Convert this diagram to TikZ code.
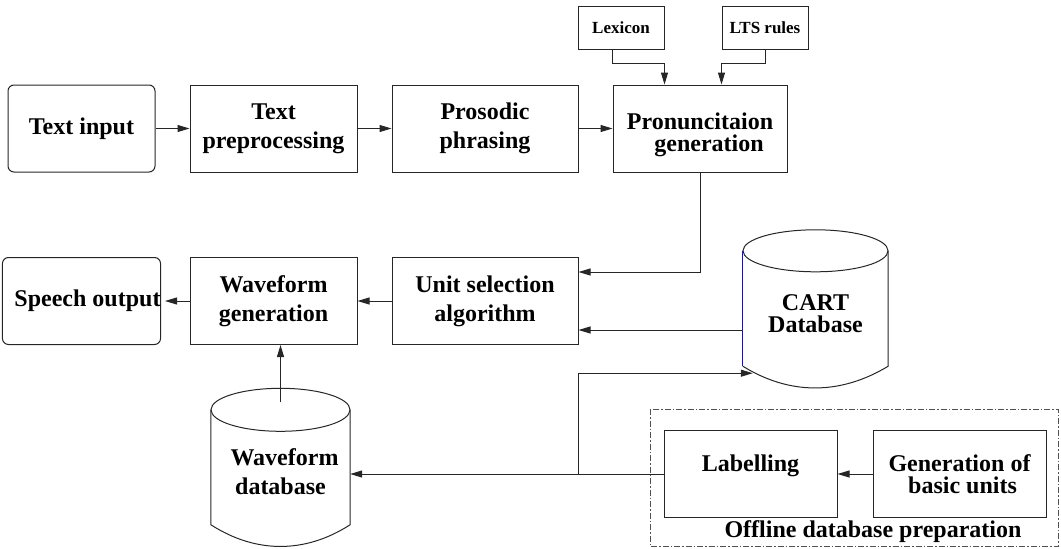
\documentclass[tikz,border=0pt]{standalone}
\usepackage{fontspec}
\setmainfont{Liberation Serif}
\usetikzlibrary{arrows.meta,calc}
\definecolor{edge}{gray}{0.15}
\definecolor{sideblue}{rgb}{0.1,0.1,0.55}
\tikzset{
  base/.style={draw=edge, line width=1pt, inner sep=0pt, align=center,
    font=\bfseries\fontsize{24}{29}\selectfont},
  blk/.style={base, minimum width=#1, minimum height=87pt},
  rblk/.style={blk=#1, rounded corners=6pt},
  small/.style={base, minimum width=86pt, minimum height=43pt,
    font=\bfseries\fontsize{17}{20}\selectfont},
  tight/.style={font=\bfseries\fontsize{24}{22}\selectfont},
  drum/.style={inner sep=0pt, align=center, minimum width=#1, minimum height=158pt,
    font=\bfseries\fontsize{24}{29}\selectfont},
  arr/.style={draw=edge, line width=1pt, -{Triangle[length=12pt,width=7pt]}},
  ln/.style={draw=edge, line width=1pt},
}
\begin{document}
\begin{tikzpicture}[x=1pt,y=-1pt]
\useasboundingbox (0,0) rectangle (1061,549);

% upper processing chain
\node[rblk=147pt] (tin)  at (81.5,128.5) {Text input};
\node[blk=167pt]  (tpre) at (273.5,128.5) {Text\\preprocessing};
\node[blk=186pt]  (pros) at (485,128.5) {Prosodic\\phrasing};
\node[blk=174pt, tight] (pron) at (700,128.5)
  {\rule{0pt}{30pt}Pronuncitaion\\\hspace*{18pt}generation};
\node[small] (lex) at (621,27.5) {Lexicon};
\node[small] (lts) at (765,27.5) {LTS rules};

% lower processing chain
\node[rblk=147pt] (sout) at (81.5,301) {\hspace*{12pt}Speech output};
\node[blk=167pt]  (wgen) at (273.5,301) {Waveform\\generation};
\node[blk=186pt]  (usel) at (485,301) {Unit selection\\algorithm};

% offline preparation
\node[blk=173pt] (lab) at (750.5,474) {Labelling\\[-8pt]\mbox{}};
\node[blk=173pt, tight] (gen) at (959.5,474) {Generation of\\\hspace*{6pt}basic units};
\draw[edge!80, line width=0.9pt, dash pattern=on 6pt off 2pt on 1.5pt off 2pt]
  (650,409) rectangle (1058,546);
\node[font=\bfseries\fontsize{24}{29}\selectfont] (off) at (873,532) {Offline database preparation};

% databases
\node[drum=145pt, tight] (cart) at (815.5,309) {\rule{0pt}{26pt}CART\\Database};
\draw[ln] ($(cart.north)+(0,21)$) ellipse [x radius=72.5pt, y radius=21pt];
\draw[ln] ($(cart.south west)+(0,-22)$)
  .. controls +(47,29) and +(-48,29) .. ($(cart.south east)+(0,-22)$)
  -- ($(cart.north east)+(0,21)$);
\draw[draw=sideblue, line width=1pt] ($(cart.north west)+(0,21)$) -- ($(cart.south west)+(0,-22)$);

\node[drum=139pt] (wdb) at (280.5,467.5) {\rule{0pt}{26pt}\hspace*{8pt}Waveform\\database};
\draw[ln] ($(wdb.north)+(0,21.5)$) ellipse [x radius=69.5pt, y radius=21.5pt];
\draw[ln] ($(wdb.north west)+(0,21.5)$) -- ($(wdb.south west)+(0,-22)$)
  .. controls +(45,29) and +(-45,29) .. ($(wdb.south east)+(0,-22)$)
  -- ($(wdb.north east)+(0,21.5)$);

% connectors
\draw[arr] (tin.east) -- (tpre.west);
\draw[arr] (tpre.east) -- (pros.west);
\draw[arr] (pros.east) -- (pron.west);
\draw[arr] (lex.south -| pron.west) -- ++(0,14) -| (lex.east |- pron.north);
\draw[arr] (lts.south) -- ++(0,14) -| (lts.west |- pron.north);
\draw[arr] (pron.south) |- ($(usel.east)+(0,-29)$);
\coordinate (cartout) at ($(cart.west)+(0,21)$);
\draw[arr] (cartout) -- (cartout -| usel.east);
\draw[arr] (usel.west) -- (wgen.east);
\draw[arr] (wgen.west) -- ($(sout.east)+(4,0)$);
\draw[arr] ($(wdb.north)+(0,14)$) -- (wdb.north |- wgen.south);
\draw[arr] (gen.west) -- (lab.east);
\draw[arr] (lab.west) -- (wdb.east |- lab.west);
\coordinate (split) at (usel.east |- lab.west);
\coordinate (cartin) at ($(cart.south west)+(10,-15)$);
\draw[arr] (split) |- (cartin);
\end{tikzpicture}
\end{document}
